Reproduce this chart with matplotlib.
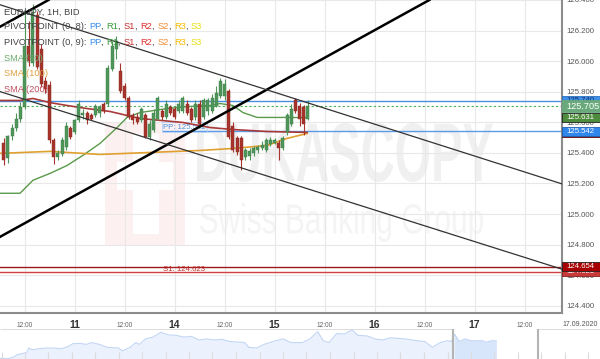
import matplotlib
matplotlib.use('Agg')
import matplotlib.pyplot as plt
import matplotlib.transforms as mtransforms
from matplotlib.patches import Rectangle, PathPatch
from matplotlib.textpath import TextPath
from matplotlib.font_manager import FontProperties
import numpy as np

plt.rcParams['font.family'] = ['Liberation Sans', 'DejaVu Sans']

# hourly candles, x = hours from 11.09 00:00 (weekend removed)
hours = list(range(-17, 57))
opens = [125.468, 125.364, 125.508, 125.566, 125.625, 125.703, 126.101, 125.990, 126.304, 126.082,
         125.873, 125.847, 125.482, 125.371, 125.390, 125.436, 125.560, 125.534, 125.612, 125.645,
         125.658, 125.651, 125.645, 125.658, 125.723, 125.723, 125.951, 126.082, 125.938, 125.840,
         125.762, 125.651, 125.638, 125.612, 125.645, 125.501, 125.547, 125.625, 125.677, 125.632,
         125.697, 125.690, 125.677, 125.677, 125.723, 125.690, 125.632, 125.723, 125.632, 125.677,
         125.677, 125.710, 125.775, 125.775, 125.808, 125.579, 125.495, 125.495, 125.371, 125.377,
         125.397, 125.416, 125.429, 125.416, 125.455, 125.462, 125.468, 125.429, 125.534, 125.592,
         125.743, 125.710, 125.697, 125.625]
closes = [125.351, 125.508, 125.566, 125.625, 125.703, 126.101, 126.004, 126.317, 125.964, 125.853,
          125.821, 125.482, 125.371, 125.397, 125.482, 125.579, 125.501, 125.612, 125.723, 125.664,
          125.612, 125.625, 125.710, 125.697, 125.677, 125.958, 126.101, 126.134, 125.808, 125.762,
          125.632, 125.612, 125.605, 125.690, 125.501, 125.592, 125.664, 125.756, 125.632, 125.723,
          125.664, 125.638, 125.723, 125.756, 125.664, 125.612, 125.723, 125.592, 125.743, 125.743,
          125.762, 125.795, 125.873, 125.853, 125.501, 125.416, 125.403, 125.351, 125.416, 125.410,
          125.429, 125.436, 125.449, 125.482, 125.482, 125.482, 125.429, 125.495, 125.645, 125.690,
          125.677, 125.625, 125.592, 125.705]
highs = [125.495, 125.514, 125.592, 125.664, 125.736, 126.343, 126.265, 126.375, 126.330, 126.114,
         125.899, 125.873, 125.495, 125.416, 125.501, 125.599, 125.579, 125.625, 125.743, 125.690,
         125.671, 125.664, 125.723, 125.716, 125.736, 125.977, 126.134, 126.167, 125.990, 125.860,
         125.775, 125.664, 125.658, 125.703, 125.658, 125.612, 125.690, 125.769, 125.690, 125.743,
         125.716, 125.703, 125.743, 125.769, 125.743, 125.703, 125.743, 125.743, 125.756, 125.756,
         125.782, 125.840, 125.893, 125.886, 125.821, 125.599, 125.508, 125.508, 125.429, 125.429,
         125.442, 125.449, 125.475, 125.495, 125.501, 125.495, 125.482, 125.508, 125.658, 125.723,
         125.756, 125.729, 125.716, 125.743]
lows = [125.318, 125.331, 125.482, 125.540, 125.599, 125.690, 125.971, 125.971, 125.951, 125.834,
        125.795, 125.468, 125.325, 125.351, 125.377, 125.416, 125.488, 125.521, 125.599, 125.625,
        125.586, 125.612, 125.632, 125.638, 125.664, 125.710, 125.938, 126.017, 125.795, 125.743,
        125.619, 125.592, 125.592, 125.599, 125.495, 125.482, 125.534, 125.612, 125.612, 125.619,
        125.651, 125.625, 125.664, 125.664, 125.651, 125.599, 125.612, 125.579, 125.619, 125.645,
        125.664, 125.697, 125.762, 125.743, 125.488, 125.403, 125.384, 125.286, 125.351, 125.351,
        125.377, 125.397, 125.416, 125.403, 125.442, 125.455, 125.351, 125.416, 125.514, 125.579,
        125.664, 125.579, 125.514, 125.612]

# moving averages (read at a few points)
sma50_t = [-17.9, -13.1, -10.0, -5.9, -1.8, 2.0, 6.1, 10.2, 12.6, 15.7, 22.2, 27.0, 32.5, 34.9, 38.0, 40.4, 43.8, 50.0, 55.8]
sma50_v = [125.136, 125.136, 125.221, 125.266, 125.318, 125.384, 125.462, 125.566, 125.632, 125.664,
           125.690, 125.703, 125.710, 125.723, 125.710, 125.664, 125.632, 125.632, 125.631]
sma100_t = [-17.9, -5.9, 6.1, 18.1, 30.1, 38.0, 46.2, 51.0, 55.8]
sma100_v = [125.397, 125.410, 125.390, 125.403, 125.416, 125.429, 125.449, 125.495, 125.527]
sma200_t = [-17.9, -13.1, -10.0, -5.9, -1.8, 3.0, 8.5, 15.7, 26.0, 32.5, 38.0, 46.2, 55.8]
sma200_v = [125.743, 125.743, 125.756, 125.729, 125.710, 125.690, 125.671, 125.625, 125.599,
            125.566, 125.553, 125.540, 125.534]

# levels
pp_a = 125.740
pp_b = 125.542
s1_a = 124.654
s1_b = 124.623
last_price = 125.705
sma50_last = 125.631
sma200_last = 125.534
pp_b_start = 21.0

# drawn trend lines (two points each)
thick_p1 = (-17.9, 124.851)
thick_p2 = (84.8, 126.395)
thick_upper_p1 = (-17.9, 126.225)
thin_upper = [(-17.9, 126.369), (116.9, 125.198)]
thin_lower = [(-17.9, 125.801), (116.9, 124.640)]

day_hours = [0, 24, 48, 72, 96]
day_labels = ['11', '14', '15', '16', '17']
noon_hours = [-12, 12, 36, 60, 84, 108]
price_ticks = [124.4, 124.6, 124.8, 125.0, 125.2, 125.4, 125.6, 125.8, 126.0, 126.2, 126.4]

# navigator strip
nav_t = [0, 10, 17.5, 22.5, 30, 35, 37.5, 42.5, 50, 60, 70, 80, 90, 95, 105, 112.5, 120, 130, 140, 155,
         160, 170, 177.5, 182.5, 190, 200, 210, 220, 230, 240, 250, 260, 270, 280, 290, 300, 320, 325,
         335, 345, 360, 370, 380, 395, 405, 415, 422.5, 430, 440, 450, 460, 467.5, 480, 490, 500, 510,
         530, 545, 555, 565, 575, 585, 590, 594, 600, 607.5, 615, 630, 635, 642.5, 648.5]
nav_v = [2, 1, 5, 12, 15, 18, 30, 25, 28, 30, 30, 28, 35, 42, 43, 40, 45, 40, 32, 30,
         22, 32, 45, 40, 55, 60, 73, 66, 65, 60, 62, 52, 55, 52, 54, 48, 45, 32,
         30, 40, 50, 55, 45, 45, 55, 75, 50, 45, 70, 68, 80, 65, 63, 55, 52, 58,
         55, 50, 48, 32, 45, 50, 48, 68, 48, 55, 50, 50, 46, 50, 50]
nav_sel = (591.5, 648.5)
nav_handles = [591.5, 703.5]
nav_ticks = [2.5, 32.5, 62.5, 94, 124, 155, 186, 216.5, 247.5, 277.5, 309, 340, 370, 400, 431, 462.5,
             492.5, 522.5, 554, 585, 615, 646, 676.5, 707.5, 738.5, 768.5]

W, H = 600, 359
fig = plt.figure(figsize=(W / 100, H / 100), dpi=100)
fig.patch.set_facecolor('white')
ax = fig.add_axes([0, 1 - 313 / H, 561.7 / W, 313 / H])
ax.set_xlim(-17.9, 116.9)
ax.set_ylim(124.353, 126.395)
ax.set_facecolor('white')
ax.set_axisbelow(True)

# pixel transform (from top-left) for the watermark
px = mtransforms.Affine2D().scale(1 / W, -1 / H).translate(0, 1) + fig.transFigure


def text_in_box(s, x0, y0, x1, y1, color, weight='normal'):
    tp = TextPath((0, 0), s, size=1, prop=FontProperties(family='Liberation Sans', weight=weight))
    ext = tp.get_extents()
    tr = (mtransforms.Affine2D().translate(-ext.x0, -ext.y1)
          .scale((x1 - x0) / ext.width, -(y1 - y0) / ext.height).translate(x0, y0))
    patch = PathPatch(tr.transform_path(tp), fc=color, ec='none', transform=px, zorder=0.2, clip_on=False)
    ax.add_patch(patch)


# watermark logo + text
ax.add_patch(Rectangle((105, 122), 80, 123, fc='#fdf0f0', ec='none', transform=px, zorder=0.1))
ax.add_patch(Rectangle((133, 134), 26, 100, fc='white', ec='none', transform=px, zorder=0.15))
ax.add_patch(Rectangle((117, 162), 56, 28, fc='white', ec='none', transform=px, zorder=0.15))
text_in_box('DUKASCOPY', 197, 123, 493, 182, '#f0f0f0', 'bold')
text_in_box('Swiss Banking Group', 200, 203, 483, 242, '#f4f4f4')

# grid / axes
ax.set_xticks(day_hours, day_labels)
ax.set_xticks(noon_hours, ['12:00'] * len(noon_hours), minor=True)
ax.set_yticks(price_ticks, ['%.3f' % v for v in price_ticks])
ax.yaxis.tick_right()
ax.grid(True, which='both', color='#e8e8e8', lw=0.8)
ax.tick_params(axis='y', length=0, pad=3.5, labelsize=5.6, labelcolor='#555555')
ax.tick_params(axis='x', which='major', length=0, pad=5, labelsize=7.5, labelcolor='#333333')
ax.tick_params(axis='x', which='minor', length=0, pad=6.3, labelsize=4.7, labelcolor='#666666')
for lab in ax.get_xticklabels():
    lab.set_fontweight('bold')
for s in ['left', 'top']:
    ax.spines[s].set_visible(False)
for s in ['right', 'bottom']:
    ax.spines[s].set_color('#8c8c8c')
    ax.spines[s].set_linewidth(1.5)

# horizontal levels
ax.axhline(pp_a, color='#4a90e2', lw=1.0, zorder=2)
ax.hlines(pp_b, pp_b_start, 116.9, color='#5b9bea', lw=1.0, zorder=2)
ax.text(pp_b_start + 0.3, pp_b + 0.004, 'PP: 125.542', color='#4a90e2', fontsize=5.6,
        va='bottom', ha='left', zorder=2,
        bbox=dict(boxstyle='square,pad=0.15', fc='none', ec='#b8d2f5', lw=0.6))
ax.axhline(last_price, color='#4caf50', lw=0.8, ls=(0, (2, 2)), zorder=2)
ax.axhline(s1_a, color='#a01818', lw=1.0, zorder=2)
ax.axhline(s1_b, color='#d04040', lw=1.0, zorder=2)
ax.text(pp_b_start + 0.3, (s1_a + s1_b) / 2, 'S1: 124.623', color='#c03030', fontsize=5.6,
        va='center', ha='left', zorder=2)

# moving averages
ax.plot(sma50_t, sma50_v, color='#5a9a4a', lw=1.0, zorder=2.6)
ax.plot(sma100_t, sma100_v, color='#e0a030', lw=1.2, zorder=2.6)
ax.plot(sma200_t, sma200_v, color='#a83a3a', lw=1.2, zorder=2.6)

# candles
opens_a = np.array(opens)
closes_a = np.array(closes)
up = closes_a >= opens_a
cols = np.where(up, '#4f965a', '#a8342b')
edges = np.where(up, '#3c7a44', '#862820')
ax.vlines(hours, lows, highs, color=cols, lw=0.8, zorder=3)
ax.bar(hours, closes_a - opens_a, bottom=opens_a, width=0.7, color=cols, edgecolor=edges,
       lw=0.3, zorder=3.1)

# trend lines
slope = (thick_p2[1] - thick_p1[1]) / (thick_p2[0] - thick_p1[0])
ax.axline(thick_p1, thick_p2, color='black', lw=1.8, zorder=4)
ax.axline(thick_upper_p1, slope=slope, color='black', lw=1.8, zorder=4)
ax.axline(thin_upper[0], thin_upper[1], color='#333333', lw=0.9, zorder=4)
ax.axline(thin_lower[0], thin_lower[1], color='#333333', lw=0.9, zorder=4)

# price boxes on the right axis
blend = mtransforms.blended_transform_factory(ax.transAxes, ax.transData)
pxh = (126.395 - 124.353) / 313.0
box_w = (W - 561.7) / 561.7


def price_box(p, txt, fc, ec, tc, z, h=9, fs=5.6, weight='normal'):
    ax.add_patch(Rectangle((1.0, p - h / 2 * pxh), box_w, h * pxh, fc=fc, ec=ec, lw=0.6,
                           transform=blend, clip_on=False, zorder=z))
    ax.text(1.008, p, txt, transform=blend, color=tc, fontsize=fs, ha='left', va='center',
            fontweight=weight, zorder=z + 0.05, clip_on=False)


price_box(sma200_last, '%.3f' % sma200_last, '#8b1a1a', '#5a1010', 'white', 5)
price_box(pp_a, '%.3f' % pp_a, '#3d8fe8', '#2a70c0', '#15306a', 5.5)
price_box(pp_b, '%.3f' % pp_b, '#2f86eb', '#1f5fb0', 'white', 6)
price_box(sma50_last, '%.3f' % sma50_last, '#4c8c3c', '#222222', 'white', 6.5)
price_box(last_price, '%.3f' % last_price, '#6aa97c', '#6aa97c', 'white', 7, h=12, fs=6.6)
price_box(s1_b, '%.3f' % s1_b, '#c83a3a', '#8a2020', 'white', 6)
price_box(s1_a, '%.3f' % s1_a, '#a80000', '#222222', 'white', 6.5)

fig.text(580 / W, 1 - 324 / H, '17.09.2020', fontsize=5, color='#555555', ha='center', va='center')

# legend text block, top left
rows = [
    [('EUR/JPY, 1H, BID', '#444444')],
    [('PIVOTPOINT (0, 8): ', '#444444'), ('PP', '#3b8eea'), (', ', '#444444'), ('R1', '#3a9a3a'),
     (', ', '#444444'), ('S1', '#c8302c'), (', ', '#444444'), ('R2', '#e83030'), (', ', '#444444'),
     ('S2', '#f08a30'), (', ', '#444444'), ('R3', '#f5b800'), (', ', '#444444'), ('S3', '#e8e010')],
    [('PIVOTPOINT (0, 9): ', '#444444'), ('PP', '#3b8eea'), (', ', '#444444'), ('R1', '#3a9a3a'),
     (', ', '#444444'), ('S1', '#c8302c'), (', ', '#444444'), ('R2', '#e83030'), (', ', '#444444'),
     ('S2', '#f08a30'), (', ', '#444444'), ('R3', '#f5b800'), (', ', '#444444'), ('S3', '#e8e010')],
    [('SMA (50)', '#6aaa6a')],
    [('SMA (100)', '#e0a040')],
    [('SMA (200)', '#c05060')],
]
row_y = [12.7, 26.7, 42.7, 58.3, 73.3, 89.3]
renderer = fig.canvas.get_renderer()
for pieces, yy in zip(rows, row_y):
    x = 4.0
    for s, c in pieces:
        t = fig.text(x / W, 1 - yy / H, s, color=c, fontsize=6.7, ha='left', va='center', zorder=10)
        x += t.get_window_extent(renderer).width

# navigator
nav = fig.add_axes([0, 0, 1, 30.3 / H])
nav.set_xlim(0, 784)
nav.set_ylim(0, 83)
nav.axis('off')
nav_t_a = np.array(nav_t)
nav.fill_between(nav_t, 0, nav_v, color='#ebf2fd', lw=0)
sel = nav_t_a >= nav_sel[0]
nav.fill_between(nav_t_a[sel], 0, np.array(nav_v)[sel], color='#d8e6fb', lw=0)
nav.plot(nav_t, nav_v, color='#c2d6f5', lw=0.8)
nav.vlines(nav_ticks, 0, 20, color='#dcdcdc', lw=0.8)
nav.hlines(82, 0, nav_handles[0], color='#dddddd', lw=0.8)
nav.hlines(82, nav_handles[1], 784, color='#dddddd', lw=0.8)
nav.vlines(nav_handles, 0, 83, color='#b4b4b4', lw=1.5)

fig.savefig('out.png', dpi=100)
